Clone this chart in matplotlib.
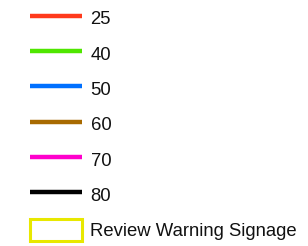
import matplotlib
matplotlib.use("Agg")
import matplotlib.pyplot as plt
from matplotlib.lines import Line2D
from matplotlib.patches import Patch

plt.rcParams['font.family'] = ['Liberation Sans', 'DejaVu Sans']

labels = ["25", "40", "50", "60", "70", "80"]
colors = ["#ff3a1c", "#4fe600", "#0070ff", "#a86a00", "#ff00cc", "#000000"]
patch_label = "Review Warning Signage"
patch_color = "#e8e800"

W, H = 308, 246
fig = plt.figure(figsize=(W / 100, H / 100), dpi=100)

handles = [Line2D([], [], color=c, lw=3.2, solid_capstyle='butt') for c in colors]
handles.append(Patch(facecolor='white', edgecolor=patch_color, linewidth=2.2))
all_labels = labels + [patch_label]

fs = 13.3
px = fs * 100 / 72
leg = fig.legend(handles, all_labels, loc='upper left',
                 bbox_to_anchor=(30 / W, 1 - 7 / H), bbox_transform=fig.transFigure,
                 frameon=False, fontsize=fs, borderpad=0, borderaxespad=0,
                 handlelength=52 / px, handleheight=27 / px,
                 handletextpad=8.5 / px, labelspacing=13.3 / px)
for t in leg.get_texts():
    t.set_color("#111111")

fig.savefig("out.png", dpi=100)
